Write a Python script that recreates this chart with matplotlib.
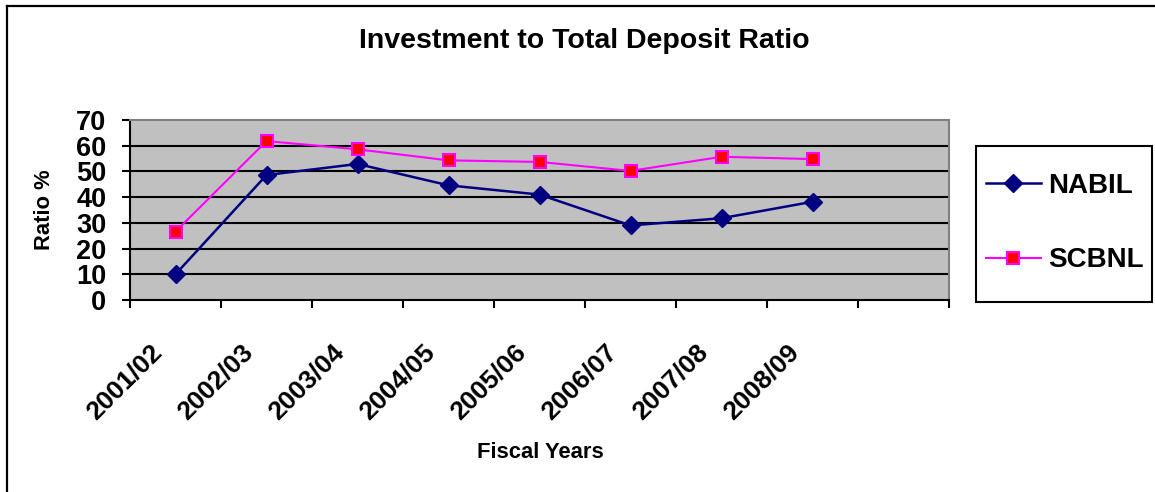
import numpy as np
import matplotlib
matplotlib.use('Agg')
import matplotlib.pyplot as plt
from matplotlib.lines import Line2D
from matplotlib.patches import Rectangle
import matplotlib.transforms as mtransforms

plt.rcParams['font.family'] = ['Liberation Sans', 'DejaVu Sans']
plt.rcParams['font.weight'] = 'bold'

# data
years = ['2001/02', '2002/03', '2003/04', '2004/05', '2005/06',
         '2006/07', '2007/08', '2008/09']
nabil = [10.0, 48.6, 52.9, 44.6, 41.0, 29.0, 31.8, 38.2]
scbnl = [26.6, 61.8, 58.6, 54.3, 53.7, 50.2, 55.7, 54.8]
n_slots = 9          # excel left one empty category at the end
yticks = [0, 10, 20, 30, 40, 50, 60, 70]

W, H = 1155, 492
fig = plt.figure(figsize=(W / 100, H / 100), dpi=100)

def px(x0, y0, x1, y1):
    # pixel box (top-left origin) -> figure fraction rect
    return [x0 / W, 1 - y1 / H, (x1 - x0) / W, (y1 - y0) / H]

ax = fig.add_axes(px(130, 120, 949, 300))
ax.set_facecolor('#C0C0C0')

xpos = np.arange(len(years)) + 0.5
ax.hlines(yticks[1:-1], 0, n_slots, colors='black', linewidth=1.5, zorder=1)

ax.plot(xpos, nabil, color='#000080', linewidth=1.8, marker='D',
        markersize=9.5, markerfacecolor='#000080', markeredgecolor='#000080',
        label='NABIL', zorder=3)
ax.plot(xpos, scbnl, color='#FF00FF', linewidth=1.5, marker='s',
        markersize=9, markerfacecolor='#FF0000', markeredgecolor='#FF00FF',
        markeredgewidth=1.5, label='SCBNL', zorder=3)

ax.set_xlim(0, n_slots)
ax.set_ylim(0, 70)

ax.set_yticks(yticks)
ax.set_yticklabels([str(v) for v in yticks], fontsize=19.5, fontweight='bold')
ax.tick_params(axis='y', direction='out', length=6, width=1.5, pad=11)

ax.set_xticks(np.arange(n_slots + 1))
ax.set_xticklabels([])
ax.set_xticks(xpos, minor=True)
ax.set_xticklabels(years, minor=True, rotation=45, ha='right', va='top',
                   fontsize=19, fontweight='bold')
ax.tick_params(axis='x', which='major', direction='out', length=6, width=1.5)
ax.tick_params(axis='x', which='minor', length=0, pad=29)
shift = mtransforms.ScaledTranslation(-9 / 100, 0, fig.dpi_scale_trans)
for lab in ax.get_xticklabels(minor=True):
    lab.set_transform(lab.get_transform() + shift)

for s in ['left', 'bottom']:
    ax.spines[s].set_color('black')
    ax.spines[s].set_linewidth(1.5)
for s in ['top', 'right']:
    ax.spines[s].set_color('#808080')
    ax.spines[s].set_linewidth(1.5)

fig.text(584 / W, 1 - 41 / H, 'Investment to Total Deposit Ratio',
         ha='center', va='center', fontsize=20.5, fontweight='bold')
fig.text(540 / W, 1 - 452 / H, 'Fiscal Years', ha='center', va='center',
         fontsize=15.8, fontweight='bold')
fig.text(45 / W, 1 - 210 / H, 'Ratio %', ha='center', va='center',
         rotation=90, fontsize=15.8, fontweight='bold')

# legend box drawn by hand, entries in a frameless legend
fig.add_artist(Rectangle((976 / W, 1 - 302 / H), 176 / W, 156 / H,
                         transform=fig.transFigure, fill=False,
                         edgecolor='black', linewidth=1.5))
fig.legend(loc='center left', bbox_to_anchor=(980 / W, 1 - 223 / H),
           frameon=False, handlelength=2.0, handletextpad=0.25,
           labelspacing=1.75, borderpad=0.2, borderaxespad=0,
           prop={'weight': 'bold', 'size': 20})

# outer chart frame (cropped at right and bottom)
fig.add_artist(Line2D([7 / W, 7 / W], [0, 1 - 6 / H], color='black',
                      linewidth=1.6, transform=fig.transFigure))
fig.add_artist(Line2D([7 / W, 1], [1 - 6 / H, 1 - 6 / H], color='black',
                      linewidth=1.6, transform=fig.transFigure))

fig.savefig('out.png', dpi=100, facecolor='white')
